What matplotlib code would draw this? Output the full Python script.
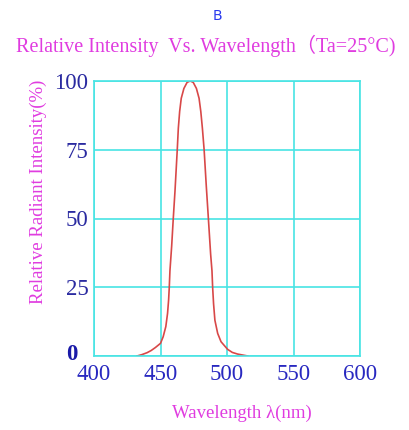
import matplotlib
matplotlib.use("Agg")
import matplotlib.pyplot as plt

# spectrum
wavelength = [432.3, 436, 439.9, 443, 446.2, 450, 452, 454, 455.3, 456.1, 456.6,
              457.1, 458.4, 459.6, 460.9, 462.6, 463.4, 464.4, 465.6, 467.6, 470,
              472.3, 474.6, 477, 479, 480.3, 481.5, 482.8, 484.4, 486, 487.7,
              488.7, 489.2, 489.9, 490.9, 493, 495.5, 500.5, 504, 508, 515.6]
intensity = [0, 0.5, 1.2, 2, 3.1, 4.6, 7, 10.7, 15.5, 20.4, 25,
             31, 40, 50, 60, 75, 82.8, 88.9, 93.7, 97.3, 99.5,
             100, 99.5, 97.3, 93.7, 88.9, 82.8, 75, 62, 50, 37,
             31, 25, 19, 13, 8.2, 5.2, 2.4, 1.3, 0.7, 0]

x_ticks = [400, 450, 500, 550, 600]
y_ticks = [0, 25, 50, 75, 100]

magenta = "#e03ce0"
blue = "#2828c0"
cyan = "#48e4e4"
serif = "Liberation Serif"

fig = plt.figure(figsize=(4.1, 4.3), dpi=100)
ax = fig.add_axes([94 / 410, 74 / 430, 266 / 410, 275 / 430])

ax.plot(wavelength, intensity, color="#d84848", lw=1.2)
ax.set_xlim(400, 600)
ax.set_ylim(0, 100)
ax.set_xticks(x_ticks)
ax.set_yticks(y_ticks)
ax.grid(True, color=cyan, lw=1.2)
for s in ax.spines.values():
    s.set_color(cyan)
    s.set_linewidth(1.2)
ax.tick_params(length=0, pad=4)
ax.set_xticklabels([str(v) for v in x_ticks], fontsize=16.5, family=serif, color=blue)
ax.set_yticklabels([""] + [str(v) for v in y_ticks[1:]], fontsize=16.5,
                   family=serif, color="#2a2aa0")
ax.tick_params(axis="x", pad=6)

# bold zero at the corner
fig.text(72 / 410, 1 - 355 / 430, "0", fontsize=16.5, family=serif, weight="bold",
         color="#1a1aa8", ha="center", va="center")

fig.text(217 / 410, 1 - 16 / 430, "B", fontsize=10, color="#2a3aee",
         ha="center", va="center")
fig.text(206 / 410, 1 - 46 / 430, "Relative Intensity  Vs. Wavelength\uff08Ta=25\u00b0C)",
         fontsize=14.5, family=[serif, "Noto Sans CJK SC"], color=magenta,
         ha="center", va="center")
fig.text(38 / 410, 1 - 192 / 430, "Relative Radiant Intensity(%)", fontsize=13.5,
         family=serif, color=magenta, rotation=90, ha="center", va="center")
fig.text(242 / 410, 1 - 413 / 430, "Wavelength \u03bb(nm)", fontsize=13.5,
         family=serif, color=magenta, ha="center", va="center")

fig.savefig("out.png", dpi=100, facecolor="white")
